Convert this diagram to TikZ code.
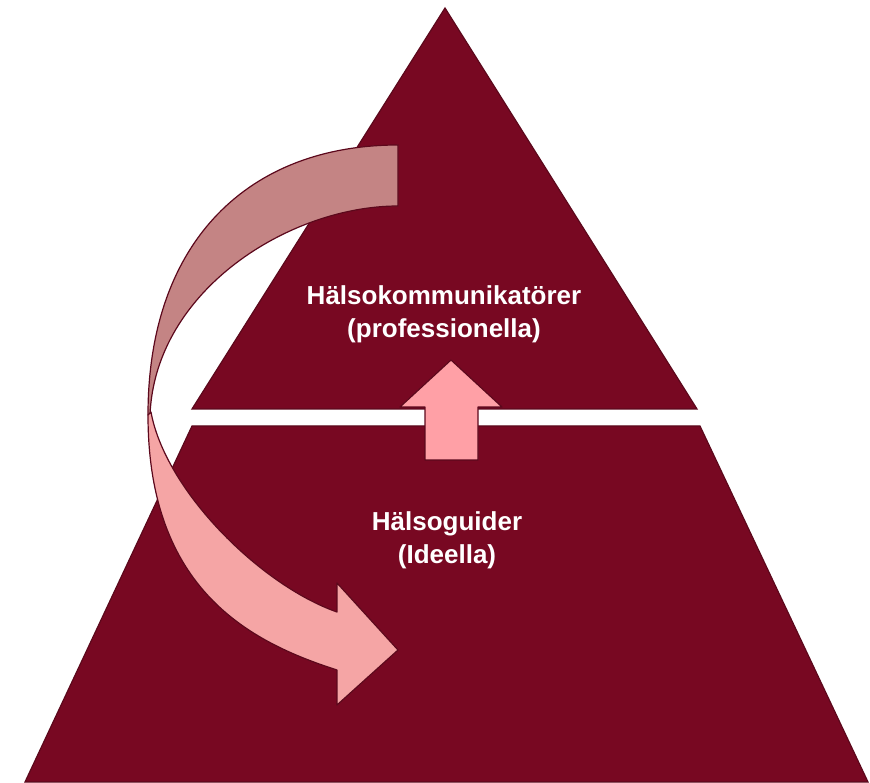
\documentclass[tikz,border=0pt]{standalone}
\usepackage{fontspec}
\setmainfont{Liberation Sans}

\definecolor{pyrFill}{RGB}{120,8,34}
\definecolor{pyrLine}{RGB}{92,8,28}
\definecolor{backFill}{RGB}{196,132,132}
\definecolor{frontFill}{RGB}{245,165,165}
\definecolor{upFill}{RGB}{255,160,166}

\tikzset{
  level/.style={line width=1.2pt, draw=pyrLine, fill=pyrFill},
  band/.style={line width=1.2pt, draw=pyrLine, line join=round},
  label/.style={text=white, font=\bfseries\fontsize{26}{33}\selectfont, anchor=base, inner sep=0pt}
}

\begin{document}
\begin{tikzpicture}[x=1pt, y=1pt]
  \useasboundingbox (0,0) rectangle (870,782);
  % pyramid levels
  \draw[level] (445,774) -- (697,373) -- (192,373) -- cycle;
  \draw[level] (192,356) -- (700,356) -- (868,0) -- (25,0) -- cycle;
  % curved arrow, back part
  \draw[band, fill=backFill] (398,637) .. controls (250,637) and (148,542) .. (148,367)
    -- (150,367) .. controls (155,492) and (290,576) .. (398,576) -- cycle;
  % curved arrow, front part
  \draw[band, fill=frontFill] (148,367) .. controls (148,192) and (250,140) .. (337,112)
    -- (337,77) -- (398,132) -- (337,199) -- (337,170)
    .. controls (260,197) and (165,292) .. (151,370) -- cycle;
  % arrow up
  \draw[band, fill=upFill] (451,422) -- (502,375) -- (478,375) -- (478,322)
    -- (425,322) -- (425,375) -- (400,375) -- cycle;
  % texts
  \node[label] (upperTitle) at (444,477) {Hälsokommunikatörer};
  \node[label] (upperSub) at (444,444) {(professionella)};
  \node[label] (lowerTitle) at (447,251) {Hälsoguider};
  \node[label] (lowerSub) at (447,218) {(Ideella)};
\end{tikzpicture}
\end{document}
